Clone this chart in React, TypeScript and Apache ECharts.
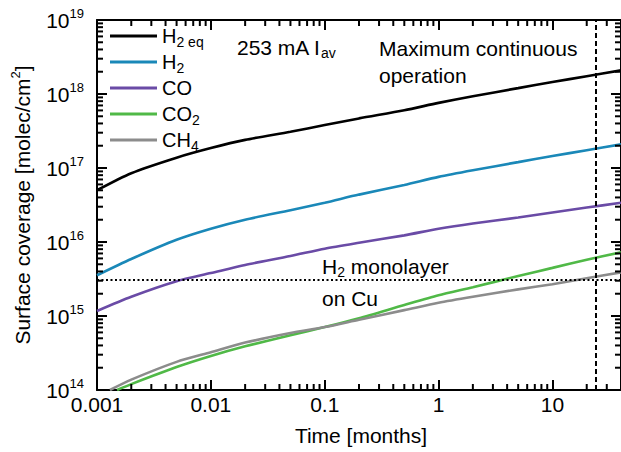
import React, { useEffect, useRef } from 'react';
import * as echarts from 'echarts';

// ---- data ----
const timeMonths = [0.001, 0.002, 0.005, 0.01, 0.02, 0.05, 0.1, 0.2, 0.5, 1, 2, 5, 10, 20, 40];
const co2TimeMonths = [0.0015, 0.002, 0.005, 0.01, 0.02, 0.05, 0.1, 0.2, 0.5, 1, 2, 5, 10, 20, 40];
const ch4TimeMonths = [0.0013, 0.002, 0.005, 0.01, 0.02, 0.05, 0.1, 0.2, 0.5, 1, 2, 5, 10, 20, 40];

const h2eqCoverage = [5.01e16, 8.51e16, 1.38e17, 1.86e17, 2.4e17, 3.09e17, 3.8e17, 4.68e17, 6.03e17, 7.59e17, 9.33e17, 1.2e18, 1.45e18, 1.74e18, 2.09e18];
const h2Coverage = [3.55e15, 5.89e15, 1.07e16, 1.51e16, 2.0e16, 2.69e16, 3.39e16, 4.37e16, 5.89e16, 7.59e16, 9.33e16, 1.2e17, 1.45e17, 1.74e17, 2.09e17];
const coCoverage = [1.17e15, 1.82e15, 2.95e15, 3.8e15, 4.9e15, 6.46e15, 8.13e15, 9.77e15, 1.23e16, 1.51e16, 1.78e16, 2.14e16, 2.5e16, 2.92e16, 3.39e16];
const co2Coverage = [1.0e14, 1.2e14, 2.04e14, 2.88e14, 3.89e14, 5.5e14, 7.08e14, 9.33e14, 1.41e15, 1.91e15, 2.45e15, 3.47e15, 4.47e15, 5.75e15, 7.24e15];
const ch4Coverage = [1.0e14, 1.38e14, 2.4e14, 3.24e14, 4.37e14, 5.89e14, 7.08e14, 8.91e14, 1.2e15, 1.51e15, 1.82e15, 2.29e15, 2.69e15, 3.24e15, 3.89e15];

const seriesNames = ['H2eq', 'H2', 'CO', 'CO2', 'CH4'];
const legendLabels = ['{m|H}{s|2 eq}', '{m|H}{s|2}', '{m|CO}', '{m|CO}{s|2}', '{m|CH}{s|4}'];

const monolayerCoverage = 3.06e15;
const maxOperationMonths = 24;

const xTickLabels = ['0.001', '0.01', '0.1', '1', '10'];
const X_MIN = 0.001;
const X_MAX = 40;
const Y_MIN = 1e14;
const Y_MAX = 1e19;

const FONT = '"Liberation Sans", Arial, Helvetica, sans-serif';
const TICK_COLOR = '#000000';

const pairs = (xs: number[], ys: number[]) => xs.map((x, i) => [x, ys[i]]);

function minorTickValues(min: number, max: number) {
  const out: number[] = [];
  const e0 = Math.floor(Math.log10(min));
  const e1 = Math.ceil(Math.log10(max));
  for (let e = e0; e <= e1; e++) {
    for (let k = 2; k <= 9; k++) {
      const v = k * Math.pow(10, e);
      if (v > min * 1.0001 && v < max * 0.9999) out.push(v);
    }
  }
  return out;
}

const subRich = {
  m: { fontSize: 20, lineHeight: 20, padding: [3, 0, 3, 0], color: '#000', fontFamily: FONT },
  s: { fontSize: 14, lineHeight: 14, padding: [12, 0, 0, 0], color: '#000', fontFamily: FONT },
};
const annRich = {
  m: { fontSize: 21, lineHeight: 21, padding: [3, 0, 3, 0], color: '#000', fontFamily: FONT },
  s: { fontSize: 14, lineHeight: 14, padding: [12, 0, 0, 0], color: '#000', fontFamily: FONT },
};
const supRich = {
  m: { fontSize: 21, lineHeight: 21, padding: [3, 0, 2, 0], color: '#000', fontFamily: FONT },
  p: { fontSize: 13, lineHeight: 13, padding: [0, 0, 13, 0], color: '#000', fontFamily: FONT },
};

export default function App() {
  const ref = useRef<HTMLDivElement>(null);
  useEffect(() => {
    if (!ref.current) return;
    const chart = echarts.init(ref.current, null, { renderer: 'svg' });
    const colors = ['#000000', '#1a88b8', '#6a4ba6', '#50b947', '#8c8c8c'];
    const dataSets = [
      pairs(timeMonths, h2eqCoverage),
      pairs(timeMonths, h2Coverage),
      pairs(timeMonths, coCoverage),
      pairs(co2TimeMonths, co2Coverage),
      pairs(ch4TimeMonths, ch4Coverage),
    ];
    const lineSeries: any[] = dataSets.map((d, i) => ({
      name: seriesNames[i],
      type: 'line',
      data: d,
      symbol: 'none',
      showSymbol: false,
      smooth: 0.25,
      lineStyle: { color: colors[i], width: 2.6 },
      itemStyle: { color: colors[i] },
      z: 3,
    }));
    lineSeries[0].markLine = {
      silent: true,
      symbol: ['none', 'none'],
      label: { show: false },
      animation: false,
      data: [
        { xAxis: maxOperationMonths, lineStyle: { type: [5, 3], color: '#000', width: 2 } },
        { yAxis: monolayerCoverage, lineStyle: { type: [2, 2.5], color: '#000', width: 2 } },
      ],
    };

    // minor tick marks on all four sides: [x, y, kind(0 = x tick, 1 = y tick)]
    const tickData: number[][] = [
      ...minorTickValues(X_MIN, X_MAX).map((v) => [v, Y_MIN, 0]),
      ...minorTickValues(Y_MIN, Y_MAX).map((v) => [X_MIN, v, 1]),
    ];
    const minorLen = 6;
    const tickSeries = {
      type: 'custom',
      coordinateSystem: 'cartesian2d',
      xAxisIndex: 0,
      yAxisIndex: 0,
      silent: true,
      clip: false,
      data: tickData,
      z: 6,
      renderItem: (params: any, api: any) => {
        const kind = api.value(2);
        const st = { stroke: TICK_COLOR, lineWidth: 2, fill: null };
        if (kind === 0) {
          const v = api.value(0);
          const b = api.coord([v, Y_MIN]);
          const t = api.coord([v, Y_MAX]);
          return {
            type: 'group',
            children: [
              { type: 'line', shape: { x1: b[0], y1: b[1], x2: b[0], y2: b[1] - minorLen }, style: st },
              { type: 'line', shape: { x1: t[0], y1: t[1], x2: t[0], y2: t[1] + minorLen }, style: st },
            ],
          };
        }
        const v = api.value(1);
        const l = api.coord([X_MIN, v]);
        const r = api.coord([X_MAX, v]);
        return {
          type: 'group',
          children: [
            { type: 'line', shape: { x1: l[0], y1: l[1], x2: l[0] + minorLen, y2: l[1] }, style: st },
            { type: 'line', shape: { x1: r[0], y1: r[1], x2: r[0] - minorLen, y2: r[1] }, style: st },
          ],
        };
      },
    };

    const axisLine = { show: true, onZero: false, lineStyle: { color: '#000', width: 2 } };
    const majorTick = { show: true, inside: true, length: 10, lineStyle: { color: TICK_COLOR, width: 2 } };

    const xLabel = (v: number) => {
      const lg = Math.log10(v);
      const e = Math.round(lg);
      if (Math.abs(lg - e) > 1e-6) return '';
      return xTickLabels[e + 3] ?? '';
    };
    const yLabel = (v: number) => {
      const lg = Math.log10(v);
      const e = Math.round(lg);
      if (Math.abs(lg - e) > 1e-6) return '';
      return `{m|10}{p|${e}}`;
    };

    chart.setOption({
      animation: false,
      backgroundColor: '#fff',
      textStyle: { fontFamily: FONT },
      grid: { left: 97, right: 0, top: 20, bottom: 62, containLabel: false },
      legend: {
        data: seriesNames,
        orient: 'vertical',
        left: 110,
        top: 23,
        icon: 'rect',
        itemWidth: 47,
        itemHeight: 3,
        itemGap: 0,
        padding: 0,
        formatter: (name: string) => legendLabels[seriesNames.indexOf(name)],
        textStyle: { color: '#000', fontSize: 20, fontFamily: FONT, rich: subRich },
      },
      xAxis: [
        {
          type: 'log',
          logBase: 10,
          min: X_MIN,
          max: X_MAX,
          position: 'bottom',
          axisLine,
          axisTick: majorTick,
          splitLine: { show: false },
          axisLabel: { formatter: xLabel, color: '#000', fontSize: 21, margin: 4, fontFamily: FONT, showMaxLabel: false },
        },
        {
          type: 'log',
          logBase: 10,
          min: X_MIN,
          max: X_MAX,
          position: 'top',
          axisLine,
          axisTick: majorTick,
          splitLine: { show: false },
          axisLabel: { show: false },
        },
      ],
      yAxis: [
        {
          type: 'log',
          logBase: 10,
          min: Y_MIN,
          max: Y_MAX,
          position: 'left',
          axisLine,
          axisTick: majorTick,
          splitLine: { show: false },
          axisLabel: { formatter: yLabel, margin: 13, rich: supRich },
        },
        {
          type: 'log',
          logBase: 10,
          min: Y_MIN,
          max: Y_MAX,
          position: 'right',
          axisLine,
          axisTick: majorTick,
          splitLine: { show: false },
          axisLabel: { show: false },
        },
      ],
      graphic: [
        {
          type: 'text',
          x: 22,
          y: 205,
          rotation: Math.PI / 2,
          style: {
            text: '{m|Surface coverage [molec/cm}{p|2}{m|]}',
            rich: supRich,
            align: 'center',
            verticalAlign: 'middle',
          },
        },
        {
          type: 'text',
          x: 361,
          y: 435,
          style: { text: 'Time [months]', fontSize: 21, fontFamily: FONT, fill: '#000', align: 'center', verticalAlign: 'middle' },
        },
        {
          type: 'text',
          x: 237,
          y: 47,
          style: { text: '{m|253 mA I}{s|av}', rich: annRich, align: 'left', verticalAlign: 'middle' },
        },
        {
          type: 'text',
          x: 379,
          y: 35,
          style: {
            text: 'Maximum continuous\noperation',
            fontSize: 21,
            lineHeight: 27,
            fontFamily: FONT,
            fill: '#000',
            align: 'left',
            verticalAlign: 'top',
          },
        },
        {
          type: 'text',
          x: 322,
          y: 266,
          style: { text: '{m|H}{s|2}{m| monolayer}', rich: annRich, align: 'left', verticalAlign: 'middle' },
        },
        {
          type: 'text',
          x: 322,
          y: 298,
          style: { text: 'on Cu', fontSize: 21, fontFamily: FONT, fill: '#000', align: 'left', verticalAlign: 'middle' },
        },
      ],
      series: [...lineSeries, tickSeries],
    } as any);
    return () => chart.dispose();
  }, []);
  return <div ref={ref} style={{ width: 621, height: 452, position: 'absolute', left: 0, top: 0 }} />;
}
